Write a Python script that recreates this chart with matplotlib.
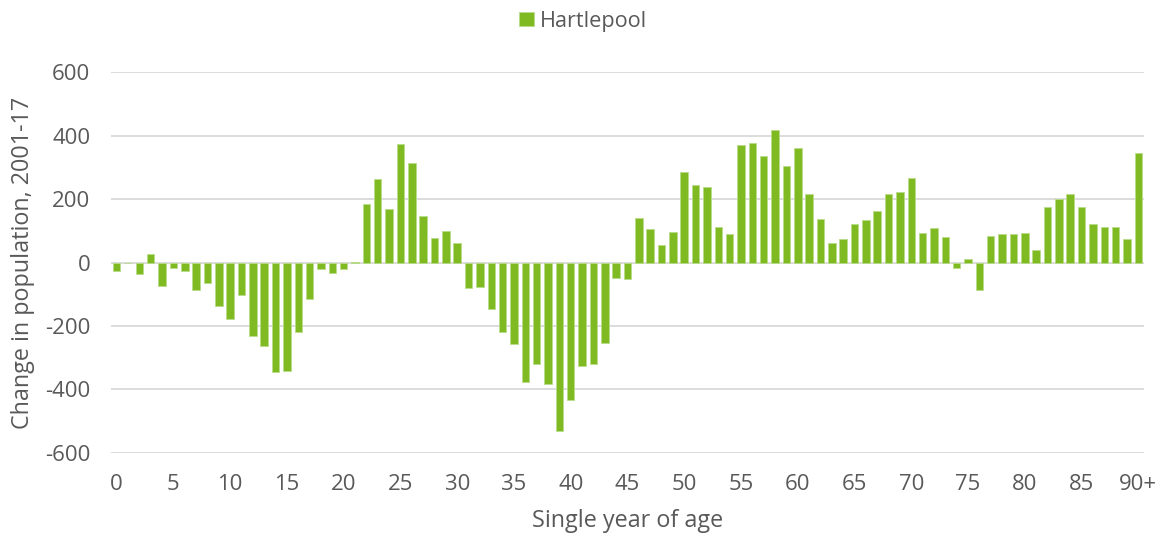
import matplotlib
matplotlib.use("Agg")
import matplotlib.pyplot as plt
from matplotlib.textpath import TextPath
from matplotlib.font_manager import FontProperties

ages = list(range(91))
tick_positions = list(range(0, 91, 5))
tick_labels = [str(a) for a in range(0, 90, 5)] + ["90+"]

values = [
    -28, 0, -36, 28, -73, -17, -26, -88, -64, -137,
    -177, -104, -232, -262, -344, -342, -218, -115, -21, -33,
    -20, 3, 186, 262, 168, 375, 313, 148, 76, 98,
    61, -80, -76, -146, -220, -257, -376, -321, -383, -531,
    -433, -327, -319, -253, -48, -52, 139, 105, 56, 96,
    285, 244, 238, 111, 91, 371, 377, 336, 419, 306,
    360, 216, 136, 61, 75, 120, 133, 162, 217, 222,
    268, 93, 109, 82, -16, 12, -88, 84, 89, 89,
    94, 41, 175, 200, 215, 174, 120, 112, 111, 73,
    347,
]
series_name = "Hartlepool"
yticks = [-600, -400, -200, 0, 200, 400, 600]

FAMILY = 'Open Sans'
plt.rcParams['font.family'] = [FAMILY, 'DejaVu Sans']
text_color = '#595959'
bar_color = '#7FBA22'


def fit_size(text, target_px, dpi=100):
    # font size (pt) whose rendered width is about target_px
    fp = FontProperties(family=FAMILY)
    w = TextPath((0, 0), text, size=10, prop=fp).get_extents().width
    w_px = w * dpi / 72.0
    return 10 * target_px / w_px


xlab_size = fit_size("Single year of age", 189)
ylab_size = fit_size("Change in population, 2001-17", 331)
leg_size = fit_size(series_name, 103)
tick_size = fit_size("-600", 43)

fig = plt.figure(figsize=(11.62, 5.40), dpi=100)
ax = fig.add_axes([0.0955, 0.1617, 0.889, 0.7043])

ax.bar(ages, values, width=0.66, color=bar_color, edgecolor='#B8DC88',
       linewidth=0.6, label=series_name, zorder=3)

ax.set_xlim(-0.5, 90.5)
ax.set_ylim(-600, 600)
ax.set_yticks(yticks)
ax.set_yticklabels([str(v) for v in yticks])
ax.set_xticks(tick_positions)
ax.set_xticklabels(tick_labels)
ax.grid(axis='y', color='#D9D9D9', linewidth=1.3, zorder=0)
ax.grid(axis='x', visible=False)
for s in ax.spines.values():
    s.set_visible(False)
ax.tick_params(axis='both', length=0, labelsize=tick_size, labelcolor=text_color)
ax.tick_params(axis='y', pad=15)
ax.tick_params(axis='x', pad=15)

ax.set_xlabel("Single year of age", fontsize=xlab_size, color=text_color)
ax.set_ylabel("Change in population, 2001-17", fontsize=ylab_size, color=text_color)
ax.xaxis.label.set_va('center')
ax.xaxis.set_label_coords(0.5, -0.68 / 3.8)
ax.yaxis.label.set_va('center')
ax.yaxis.label.set_ha('center')
ax.yaxis.set_label_coords(-0.0852, 0.5)

leg = fig.legend(loc='center', bbox_to_anchor=(0.502, 0.961), frameon=False,
                 fontsize=leg_size, handlelength=0.65, handleheight=0.65,
                 handletextpad=0.3, borderpad=0.0)
for t in leg.get_texts():
    t.set_color(text_color)

fig.savefig("out.png", dpi=100)
